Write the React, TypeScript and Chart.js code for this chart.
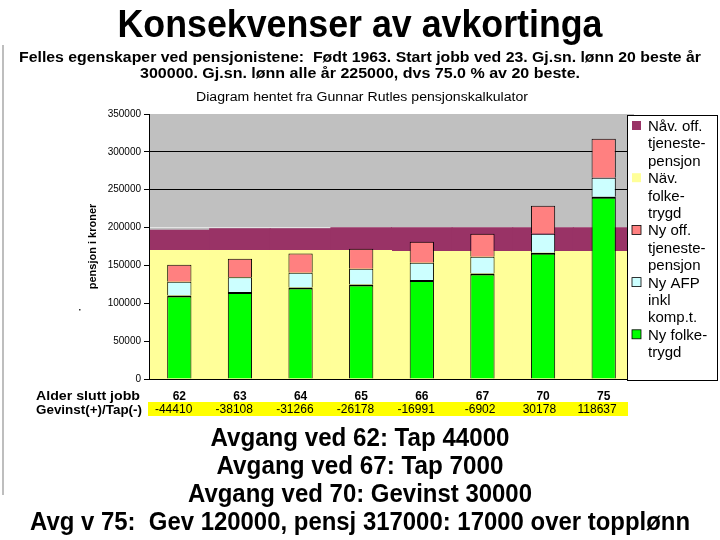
import React, { useEffect, useRef } from 'react';
import { Chart, registerables } from 'chart.js';

Chart.register(...registerables);

// ---------- data ----------
const ages = ['62', '63', '64', '65', '66', '67', '70', '75'];
const gevinstTap = [-44410, -38108, -31266, -26178, -16991, -6902, 30178, 118637];

const nyFolketrygd = [110200, 115000, 120800, 124700, 130900, 139300, 166600, 240700];
const nyAfp = [18100, 19400, 19400, 20800, 22500, 22000, 25100, 25100];
const nyTjenestepensjon = [22500, 24300, 25500, 26400, 27800, 30400, 37100, 51600];
const navFolketrygd = [169700, 169700, 169700, 169700, 168400, 168400, 168400, 168400];
const navTjenestepensjon = [26900, 28700, 28700, 30000, 31300, 31300, 31300, 31300];

const yMin = 0;
const yMax = 350000;
const yStep = 50000;

// ---------- texts ----------
const titleText = 'Konsekvenser av avkortinga';
const subtitleLines = [
  'Felles egenskaper ved pensjonistene:  Født 1963. Start jobb ved 23. Gj.sn. lønn 20 beste år',
  '300000. Gj.sn. lønn alle år 225000, dvs 75.0 % av 20 beste.',
];
const sourceText = 'Diagram hentet fra Gunnar Rutles pensjonskalkulator';
const yAxisTitle = 'pensjon i kroner';
const rowLabelAge = 'Alder slutt jobb';
const rowLabelGain = 'Gevinst(+)/Tap(-)';
const conclusionLines = [
  'Avgang ved 62: Tap 44000',
  'Avgang ved 67: Tap 7000',
  'Avgang ved 70: Gevinst 30000',
  'Avg v 75:  Gev 120000, pensj 317000: 17000 over topplønn',
];
const seriesLabels = [
  'Ny folketrygd',
  'Ny AFP inkl komp.t.',
  'Ny off. tjenestepensjon',
  'Näv. folketrygd',
  'Nåv. off. tjenestepensjon',
];
const legendLines = [
  ['Nåv. off.', 'tjeneste-', 'pensjon'],
  ['Näv.', 'folke-', 'trygd'],
  ['Ny off.', 'tjeneste-', 'pensjon'],
  ['Ny AFP', 'inkl', 'komp.t.'],
  ['Ny folke-', 'trygd'],
];
const legendDatasetIndex = [4, 3, 2, 1, 0];

const FONT = '"Liberation Sans", Arial, sans-serif';

function fitText(
  ctx: CanvasRenderingContext2D,
  text: string,
  x: number,
  y: number,
  font: string,
  width: number | null,
  align: CanvasTextAlign
) {
  ctx.save();
  ctx.font = font;
  ctx.fillStyle = '#000';
  ctx.textAlign = align;
  ctx.textBaseline = 'alphabetic';
  const w = ctx.measureText(text).width;
  const sx = width ? width / w : 1;
  ctx.translate(x, y);
  ctx.scale(sx, 1);
  ctx.fillText(text, 0, 0);
  ctx.restore();
}

const decorPlugin = {
  id: 'decor',
  beforeDraw(chart: any) {
    const { ctx, chartArea: a, width, height } = chart;
    ctx.save();
    ctx.fillStyle = '#ffffff';
    ctx.fillRect(0, 0, width, height);
    ctx.fillStyle = '#C0C0C0';
    ctx.fillRect(a.left, a.top, a.right - a.left, a.bottom - a.top);
    ctx.restore();
  },
  afterDatasetsDraw(chart: any) {
    const { ctx, chartArea: a } = chart;
    ctx.save();
    ctx.strokeStyle = '#000';
    ctx.lineWidth = 1;
    ctx.beginPath();
    ctx.moveTo(a.left + 0.5, a.top);
    ctx.lineTo(a.left + 0.5, a.bottom + 0.5);
    ctx.lineTo(a.right, a.bottom + 0.5);
    ctx.stroke();
    ctx.restore();
  },
  afterDraw(chart: any) {
    const { ctx } = chart;
    const xs = chart.scales.x;

    // slide frame line on the left + small stray dot
    ctx.save();
    ctx.strokeStyle = '#a8a8a8';
    ctx.lineWidth = 1.5;
    ctx.beginPath();
    ctx.moveTo(3, 45);
    ctx.lineTo(3, 495);
    ctx.stroke();
    ctx.fillStyle = '#333';
    ctx.fillRect(79, 309, 1.5, 1.5);
    ctx.restore();

    // titles
    fitText(ctx, titleText, 360, 37, `bold 38px ${FONT}`, 485, 'center');
    fitText(ctx, subtitleLines[0], 360, 62, `bold 14px ${FONT}`, 682, 'center');
    fitText(ctx, subtitleLines[1], 360, 78, `bold 14px ${FONT}`, 440, 'center');
    fitText(ctx, sourceText, 362, 101, `12px ${FONT}`, 332, 'center');

    // table rows under the axis
    fitText(ctx, rowLabelAge, 140, 400, `bold 12px ${FONT}`, 104, 'right');
    fitText(ctx, rowLabelGain, 142, 414, `bold 12px ${FONT}`, 106, 'right');
    ctx.save();
    ctx.fillStyle = '#FFFF00';
    ctx.fillRect(148, 402, 480, 14);
    ctx.restore();
    gevinstTap.forEach((v, i) => {
      const cx = xs.getPixelForValue(i);
      fitText(ctx, String(v), cx + 13, 413, `12px ${FONT}`, null, 'right');
    });

    // legend
    const lx = 627, ly = 115, lw = 90, lh = 265;
    ctx.save();
    ctx.fillStyle = '#ffffff';
    ctx.fillRect(lx, ly, lw, lh);
    ctx.strokeStyle = '#000';
    ctx.lineWidth = 1;
    ctx.strokeRect(lx + 0.5, ly + 0.5, lw, lh);
    ctx.restore();
    let base = 131;
    const lineH = 17.4;
    legendLines.forEach((lines, k) => {
      const ds = chart.data.datasets[legendDatasetIndex[k]];
      ctx.save();
      ctx.fillStyle = ds.backgroundColor;
      ctx.fillRect(632, base - 10, 9, 9);
      if (legendDatasetIndex[k] <= 2) {
        ctx.strokeStyle = '#000';
        ctx.lineWidth = 0.8;
        ctx.strokeRect(632, base - 10, 9, 9);
      }
      ctx.restore();
      lines.forEach((t, j) => {
        fitText(ctx, t, 648, base + j * lineH, `15px ${FONT}`, null, 'left');
      });
      base += lines.length * lineH;
    });

    // conclusions
    const widths = [299, 287, 344, 660];
    const baselines = [446, 474, 502, 530];
    conclusionLines.forEach((t, i) => {
      fitText(ctx, t, 360, baselines[i], `bold 25px ${FONT}`, widths[i], 'center');
    });
  },
};

export default function App() {
  const ref = useRef<HTMLCanvasElement | null>(null);

  useEffect(() => {
    document.body.style.margin = '0';
    const canvas = ref.current;
    if (!canvas) return;

    const front = {
      stack: 'new',
      grouped: false,
      barPercentage: 0.4,
      categoryPercentage: 1,
      borderColor: '#000000',
    };
    const back = {
      stack: 'old',
      grouped: false,
      barPercentage: 1,
      categoryPercentage: 1,
      borderWidth: 0,
      inflateAmount: 0.5,
    };

    const chart = new Chart(canvas, {
      type: 'bar',
      data: {
        labels: ages,
        datasets: [
          { ...front, label: seriesLabels[0], data: nyFolketrygd, backgroundColor: '#00FF00', borderWidth: { top: 2, left: 1, right: 1, bottom: 0 } },
          { ...front, label: seriesLabels[1], data: nyAfp, backgroundColor: '#CCFFFF', borderWidth: 1 },
          { ...front, label: seriesLabels[2], data: nyTjenestepensjon, backgroundColor: '#FF8080', borderWidth: 1 },
          { ...back, label: seriesLabels[3], data: navFolketrygd, backgroundColor: '#FFFF99' },
          { ...back, label: seriesLabels[4], data: navTjenestepensjon, backgroundColor: '#993366' },
        ] as any,
      },
      options: {
        responsive: false,
        animation: false,
        layout: { padding: { left: 82, top: 114, right: 86, bottom: 121 } },
        plugins: {
          legend: { display: false },
          tooltip: { enabled: false },
          title: { display: false },
        },
        scales: {
          x: {
            stacked: true,
            grid: { display: false, drawTicks: false },
            border: { display: false },
            ticks: {
              color: '#000',
              font: { family: FONT, size: 12, weight: 'bold' },
              padding: 10,
              maxRotation: 0,
              autoSkip: false,
            },
            afterFit: (s: any) => {
              s.height = 40;
            },
          },
          y: {
            stacked: true,
            min: yMin,
            max: yMax,
            ticks: {
              stepSize: yStep,
              color: '#000',
              font: { family: FONT, size: 10 },
              padding: 3,
              callback: (v: any) => String(v),
            },
            grid: {
              color: (c: any) => {
                const v = c.tick && c.tick.value;
                if (v === yMax) return 'rgba(0,0,0,0)';
                if (v === 200000) return '#e4e4e4';
                return '#000000';
              },
              tickColor: '#000000',
              tickLength: 5,
              lineWidth: 1,
            },
            border: { display: false },
            title: {
              display: true,
              text: yAxisTitle,
              color: '#000',
              font: { family: FONT, size: 11, weight: 'bold' },
              padding: { top: 4, bottom: 4 },
            },
            afterFit: (s: any) => {
              s.width = 67;
            },
          },
        },
      } as any,
      plugins: [decorPlugin as any],
    });

    return () => chart.destroy();
  }, []);

  return (
    <div style={{ position: 'absolute', left: 0, top: 0, width: 720, height: 540 }}>
      <canvas ref={ref} width={720} height={540} />
    </div>
  );
}
